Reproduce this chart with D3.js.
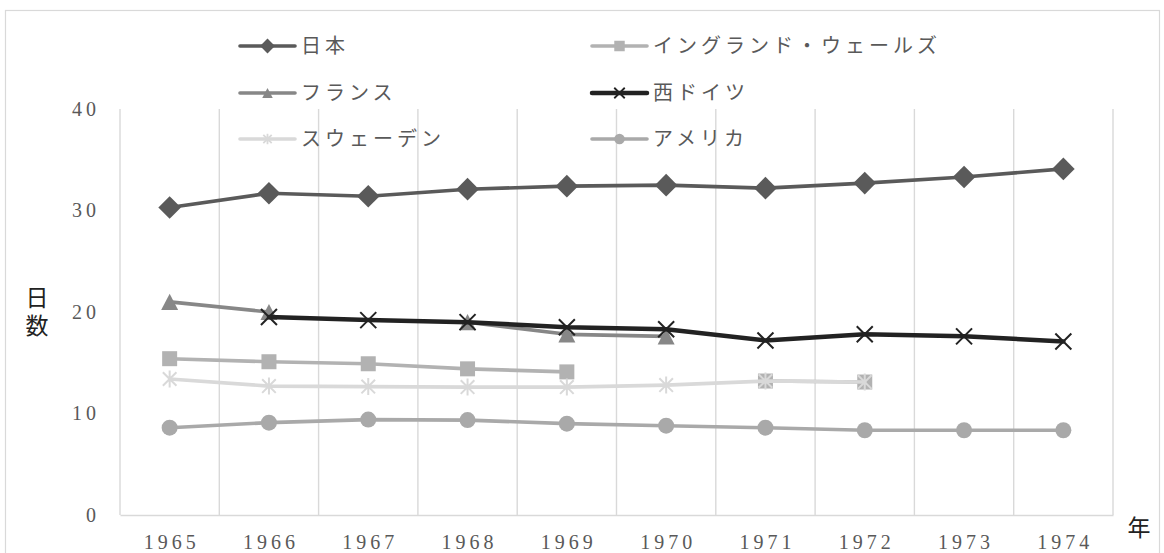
<!DOCTYPE html>
<html>
<head>
<meta charset="utf-8">
<script src="https://cdn.jsdelivr.net/npm/d3@7"></script>
<style>
  html, body { margin: 0; padding: 0; background: #fff; }
  svg { display: block; }
  text { font-family: "Liberation Serif", "Noto Sans CJK JP", serif; }
</style>
</head>
<body>
<svg id="chart" width="1164" height="553"></svg>
<script>
// ---- data ----
const years = ["1965","1966","1967","1968","1969","1970","1971","1972","1973","1974"];
const yTicks = [0, 10, 20, 30, 40];
const seriesNames = ["日本", "イングランド・ウェールズ", "フランス", "西ドイツ", "スウェーデン", "アメリカ"];
const japan   = [30.3, 31.7, 31.4, 32.1, 32.4, 32.5, 32.2, 32.7, 33.3, 34.1];
const england = [15.4, 15.1, 14.9, 14.4, 14.1, null, 13.2, 13.1, null, null];
const france  = [21.0, 20.0, null, 19.0, 17.8, 17.6, null, null, null, null];
const wgermany= [null, 19.5, 19.2, 19.0, 18.5, 18.3, 17.2, 17.8, 17.6, 17.1];
const sweden  = [13.4, 12.7, 12.65, 12.6, 12.6, 12.8, 13.2, 13.1, null, null];
const usa     = [8.6, 9.1, 9.4, 9.35, 9.0, 8.8, 8.6, 8.35, 8.35, 8.35];
const yTitle = ["日", "数"];
const xTitle = "年";

// ---- custom symbol shapes ----
const symDiamond = { draw(ctx, size) { const r = Math.sqrt(size) / 2 * Math.SQRT2;
  ctx.moveTo(0, -r); ctx.lineTo(r, 0); ctx.lineTo(0, r); ctx.lineTo(-r, 0); ctx.closePath(); } };
const symTriangle = { draw(ctx, size) { const s = Math.sqrt(size); const h = s * 0.95;
  ctx.moveTo(0, -h / 2); ctx.lineTo(s / 2, h / 2); ctx.lineTo(-s / 2, h / 2); ctx.closePath(); } };
const symTimes = { draw(ctx, size) { const r = Math.sqrt(size) / 2;
  ctx.moveTo(-r, -r); ctx.lineTo(r, r); ctx.moveTo(-r, r); ctx.lineTo(r, -r); } };
const symStar = { draw(ctx, size) { const r = Math.sqrt(size) / 2; const d = r * 0.8;
  ctx.moveTo(0, -r); ctx.lineTo(0, r); ctx.moveTo(-d, -d); ctx.lineTo(d, d); ctx.moveTo(-d, d); ctx.lineTo(d, -d); } };
const symSquare = { draw(ctx, size) { const r = Math.sqrt(size) / 2; ctx.rect(-r, -r, 2 * r, 2 * r); } };
const symCircle = { draw(ctx, size) { const r = Math.sqrt(size) / 2; ctx.moveTo(r, 0); ctx.arc(0, 0, r, 0, 2 * Math.PI); } };

const series = [
  { name: seriesNames[0], values: japan,    color: "#5a5a5a", width: 3.6, type: symDiamond,  size: 16, fill: true },
  { name: seriesNames[1], values: england,  color: "#b2b2b2", width: 3.6, type: symSquare,   size: 15, fill: true },
  { name: seriesNames[2], values: france,   color: "#878787", width: 3.6, type: symTriangle, size: 17, fill: true },
  { name: seriesNames[3], values: wgermany, color: "#222222", width: 4.5, type: symTimes,    size: 16, fill: false, mstroke: 2 },
  { name: seriesNames[4], values: sweden,   color: "#d9d9d9", width: 3.6, type: symStar,     size: 17, fill: false, mstroke: 2 },
  { name: seriesNames[5], values: usa,      color: "#a9a9a9", width: 3.6, type: symCircle,   size: 16, fill: true }
];

const svg = d3.select("#chart");
svg.append("rect").attr("x", 5.5).attr("y", 10.5).attr("width", 1154).attr("height", 560)
  .attr("fill", "#fff").attr("stroke", "#d9d9d9").attr("stroke-width", 1.2);

const x = d3.scaleBand().domain(years).range([120, 1113]).padding(0);
const y = d3.scaleLinear().domain([0, 40]).range([515, 109]);

// vertical gridlines at category boundaries
const bounds = d3.range(years.length + 1).map(i => x.range()[0] + i * x.step());
svg.append("g").selectAll("line").data(bounds).join("line")
  .attr("x1", d => d).attr("x2", d => d)
  .attr("y1", y(40)).attr("y2", y(0))
  .attr("stroke", "#d9d9d9").attr("stroke-width", 1.4);

// x axis
const xAxis = svg.append("g").attr("transform", `translate(0,${y(0)})`)
  .call(d3.axisBottom(x).tickSize(0).tickPadding(20));
xAxis.select(".domain").attr("stroke", "#d9d9d9").attr("stroke-width", 1.4);
xAxis.selectAll("text").attr("font-size", 20).attr("fill", "#595959")
  .attr("letter-spacing", 4).attr("dx", 2)
  .style("font-family", "'Liberation Serif', serif");

// y axis
const yAxis = svg.append("g").attr("transform", `translate(${x.range()[0]},0)`)
  .call(d3.axisLeft(y).tickValues(yTicks).tickSize(0).tickPadding(20));
yAxis.select(".domain").remove();
yAxis.selectAll("text").attr("font-size", 20).attr("fill", "#595959")
  .attr("letter-spacing", 4)
  .style("font-family", "'Liberation Serif', serif");

// axis titles
svg.append("g").selectAll("text").data(yTitle).join("text")
  .attr("x", 37).attr("y", (d, i) => 306 + i * 28)
  .attr("text-anchor", "middle").attr("font-size", 23).attr("fill", "#222")
  .text(d => d);
svg.append("text").attr("x", 1139).attr("y", 536).attr("text-anchor", "middle")
  .attr("font-size", 23).attr("fill", "#222").text(xTitle);

// lines + markers
const plot = svg.append("g");
series.forEach(s => {
  const pts = years.map((yr, i) => ({ yr, v: s.values[i] }));
  const line = d3.line().defined(d => d.v !== null)
    .x(d => x(d.yr) + x.bandwidth() / 2).y(d => y(d.v));
  const g = plot.append("g");
  g.append("path").datum(pts).attr("d", line).attr("fill", "none")
    .attr("stroke", s.color).attr("stroke-width", s.width)
    .attr("stroke-linejoin", "round").attr("stroke-linecap", "round");
  g.selectAll("path.m").data(pts.filter(d => d.v !== null)).join("path").attr("class", "m")
    .attr("transform", d => `translate(${x(d.yr) + x.bandwidth() / 2},${y(d.v)})`)
    .attr("d", d3.symbol().type(s.type).size(s.size * s.size))
    .attr("fill", s.fill ? s.color : "none")
    .attr("stroke", s.fill ? "none" : s.color)
    .attr("stroke-width", s.mstroke || 0);
});

// legend
const legendCols = [240, 592];
const legendRows = [46, 93, 139];
const legend = svg.append("g");
series.forEach((s, i) => {
  const lx = legendCols[i % 2], ly = legendRows[Math.floor(i / 2)];
  const g = legend.append("g").attr("transform", `translate(${lx},${ly})`);
  g.append("line").attr("x1", 0).attr("x2", 55).attr("y1", 0).attr("y2", 0)
    .attr("stroke", s.color).attr("stroke-width", s.width).attr("stroke-linecap", "round");
  g.append("path").attr("transform", "translate(27.5,0)")
    .attr("d", d3.symbol().type(s.type).size(110))
    .attr("fill", s.fill ? s.color : "none")
    .attr("stroke", s.fill ? "none" : s.color)
    .attr("stroke-width", s.mstroke ? 1.8 : 0);
  g.append("text").attr("x", 61).attr("y", 0).attr("dy", "0.35em")
    .attr("font-size", 20).attr("fill", "#595959").attr("letter-spacing", 4)
    .text(s.name);
});
</script>
</body>
</html>
